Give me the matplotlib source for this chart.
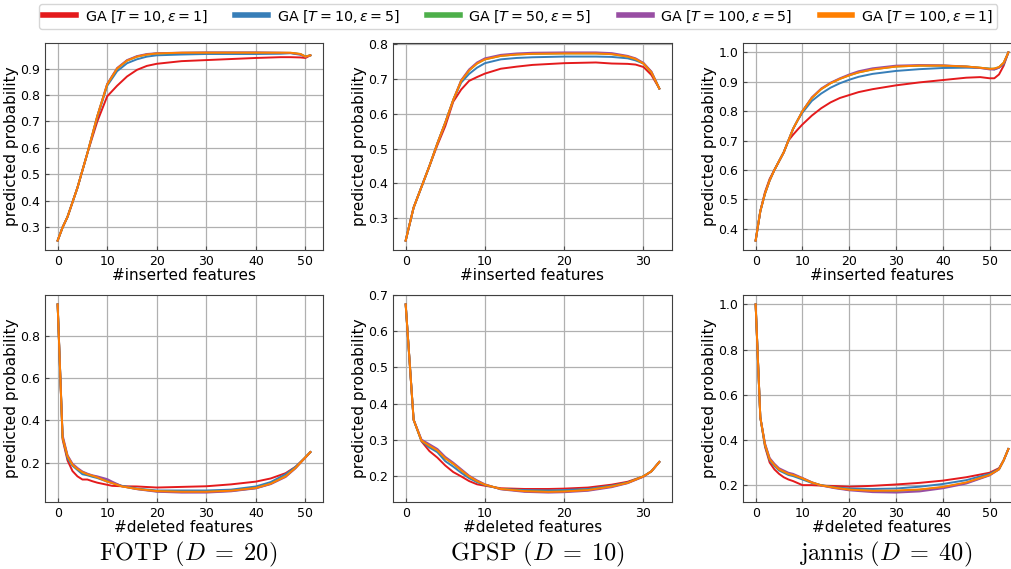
import matplotlib
matplotlib.use("Agg")
import matplotlib.pyplot as plt

# colours (Set1)
colors = ["#e41a1c", "#377eb8", "#4daf4a", "#984ea3", "#ff7f00"]
labels = [r"GA $[T=10, \varepsilon=1]$", r"GA $[T=10, \varepsilon=5]$",
          r"GA $[T=50, \varepsilon=5]$", r"GA $[T=100, \varepsilon=5]$",
          r"GA $[T=100, \varepsilon=1]$"]
titles = [r"$\mathrm{FOTP}\ (D\;=\;20)$", r"$\mathrm{GPSP}\ (D\;=\;10)$", r"$\mathrm{jannis}\ (D\;=\;40)$"]

# ---- FOTP insertion
fotp_ins_x = [0, 1, 2, 4, 6, 8, 10, 12, 14, 16, 18, 20, 25, 30, 35, 40, 45, 47, 49, 50, 51]
fotp_ins_red = [0.25, 0.30, 0.34, 0.45, 0.58, 0.70, 0.795, 0.835, 0.87, 0.895, 0.91, 0.918, 0.928, 0.932, 0.936, 0.94, 0.943, 0.943, 0.942, 0.94, 0.95]
fotp_ins_blue = [0.25, 0.30, 0.34, 0.45, 0.58, 0.715, 0.835, 0.89, 0.92, 0.935, 0.945, 0.95, 0.953, 0.955, 0.955, 0.955, 0.956, 0.958, 0.952, 0.945, 0.95]
fotp_ins_green = [0.25, 0.30, 0.34, 0.45, 0.58, 0.72, 0.84, 0.90, 0.93, 0.945, 0.953, 0.957, 0.959, 0.96, 0.96, 0.96, 0.959, 0.959, 0.955, 0.946, 0.95]
fotp_ins_purple = [0.25, 0.30, 0.34, 0.45, 0.58, 0.72, 0.842, 0.902, 0.932, 0.947, 0.955, 0.958, 0.96, 0.961, 0.961, 0.961, 0.96, 0.959, 0.954, 0.944, 0.95]
fotp_ins_orange = [0.25, 0.30, 0.34, 0.45, 0.58, 0.72, 0.84, 0.90, 0.93, 0.945, 0.953, 0.957, 0.96, 0.96, 0.96, 0.96, 0.96, 0.96, 0.955, 0.945, 0.95]

# ---- GPSP insertion
gpsp_ins_x = [0, 1, 2, 3, 4, 5, 6, 7, 8, 9, 10, 12, 14, 16, 20, 24, 26, 28, 29, 30, 31, 32]
gpsp_ins_red = [0.235, 0.33, 0.39, 0.45, 0.51, 0.565, 0.635, 0.67, 0.695, 0.706, 0.716, 0.73, 0.736, 0.741, 0.746, 0.748, 0.745, 0.744, 0.742, 0.735, 0.712, 0.673]
gpsp_ins_blue = [0.235, 0.33, 0.39, 0.45, 0.515, 0.575, 0.64, 0.69, 0.715, 0.733, 0.746, 0.757, 0.761, 0.763, 0.765, 0.765, 0.764, 0.76, 0.754, 0.745, 0.72, 0.673]
gpsp_ins_green = [0.235, 0.33, 0.39, 0.45, 0.515, 0.575, 0.64, 0.695, 0.725, 0.745, 0.757, 0.767, 0.771, 0.773, 0.774, 0.774, 0.772, 0.765, 0.758, 0.745, 0.72, 0.673]
gpsp_ins_purple = [0.235, 0.33, 0.39, 0.45, 0.515, 0.575, 0.64, 0.697, 0.728, 0.748, 0.76, 0.77, 0.774, 0.776, 0.777, 0.777, 0.775, 0.767, 0.76, 0.747, 0.722, 0.673]
gpsp_ins_orange = [0.235, 0.33, 0.39, 0.45, 0.515, 0.575, 0.64, 0.695, 0.725, 0.745, 0.757, 0.767, 0.771, 0.773, 0.774, 0.774, 0.772, 0.765, 0.758, 0.745, 0.72, 0.673]

# ---- jannis insertion
jan_ins_x = [0, 1, 2, 3, 4, 5, 6, 7, 8, 9, 10, 12, 14, 16, 18, 20, 22, 25, 30, 35, 40, 45, 48, 50, 51, 52, 53, 54]
jan_ins_red = [0.36, 0.46, 0.525, 0.57, 0.60, 0.63, 0.66, 0.70, 0.72, 0.738, 0.755, 0.785, 0.81, 0.83, 0.845, 0.855, 0.865, 0.875, 0.888, 0.898, 0.906, 0.914, 0.916, 0.912, 0.912, 0.925, 0.955, 1.0]
jan_ins_blue = [0.36, 0.46, 0.52, 0.565, 0.60, 0.63, 0.66, 0.70, 0.74, 0.77, 0.795, 0.835, 0.86, 0.88, 0.895, 0.907, 0.917, 0.927, 0.937, 0.943, 0.947, 0.948, 0.947, 0.945, 0.942, 0.948, 0.96, 1.0]
jan_ins_green = [0.36, 0.46, 0.52, 0.565, 0.60, 0.63, 0.66, 0.70, 0.74, 0.77, 0.80, 0.845, 0.875, 0.895, 0.91, 0.922, 0.932, 0.942, 0.952, 0.955, 0.955, 0.952, 0.948, 0.944, 0.945, 0.95, 0.965, 1.0]
jan_ins_purple = [0.36, 0.46, 0.52, 0.565, 0.60, 0.63, 0.66, 0.70, 0.74, 0.77, 0.80, 0.847, 0.877, 0.897, 0.912, 0.925, 0.936, 0.946, 0.955, 0.957, 0.956, 0.952, 0.947, 0.942, 0.942, 0.948, 0.963, 1.0]
jan_ins_orange = [0.36, 0.46, 0.52, 0.565, 0.60, 0.63, 0.66, 0.70, 0.74, 0.77, 0.80, 0.845, 0.875, 0.895, 0.91, 0.922, 0.932, 0.942, 0.952, 0.955, 0.955, 0.952, 0.948, 0.944, 0.945, 0.95, 0.965, 1.0]

# ---- FOTP deletion
fotp_del_x = [0, 1, 2, 3, 4, 5, 6, 7, 8, 10, 11, 13, 16, 20, 25, 30, 35, 40, 43, 46, 48, 50, 51]
fotp_del_red = [0.95, 0.31, 0.21, 0.16, 0.135, 0.12, 0.12, 0.112, 0.105, 0.095, 0.09, 0.088, 0.087, 0.082, 0.085, 0.088, 0.097, 0.11, 0.125, 0.15, 0.18, 0.225, 0.25]
fotp_del_blue = [0.95, 0.32, 0.22, 0.185, 0.165, 0.145, 0.14, 0.133, 0.127, 0.11, 0.103, 0.09, 0.077, 0.068, 0.068, 0.068, 0.072, 0.087, 0.108, 0.145, 0.18, 0.225, 0.25]
fotp_del_green = [0.95, 0.32, 0.23, 0.19, 0.17, 0.155, 0.145, 0.138, 0.132, 0.115, 0.105, 0.088, 0.075, 0.064, 0.061, 0.061, 0.066, 0.079, 0.10, 0.135, 0.175, 0.225, 0.25]
fotp_del_purple = [0.95, 0.33, 0.235, 0.195, 0.175, 0.158, 0.148, 0.14, 0.135, 0.122, 0.11, 0.088, 0.074, 0.062, 0.058, 0.058, 0.064, 0.078, 0.098, 0.132, 0.173, 0.224, 0.25]
fotp_del_orange = [0.95, 0.32, 0.23, 0.19, 0.17, 0.155, 0.145, 0.138, 0.13, 0.11, 0.103, 0.087, 0.075, 0.065, 0.062, 0.062, 0.067, 0.08, 0.10, 0.135, 0.175, 0.225, 0.25]

# ---- GPSP deletion
gpsp_del_x = [0, 1, 2, 3, 4, 5, 6, 7, 8, 9, 10, 12, 15, 18, 20, 23, 26, 28, 30, 31, 32]
gpsp_del_red = [0.675, 0.355, 0.295, 0.268, 0.25, 0.228, 0.21, 0.198, 0.185, 0.176, 0.172, 0.165, 0.163, 0.163, 0.164, 0.167, 0.175, 0.183, 0.198, 0.212, 0.238]
gpsp_del_blue = [0.675, 0.355, 0.296, 0.278, 0.265, 0.24, 0.225, 0.208, 0.193, 0.182, 0.174, 0.163, 0.16, 0.159, 0.16, 0.163, 0.172, 0.181, 0.198, 0.212, 0.238]
gpsp_del_green = [0.675, 0.355, 0.297, 0.283, 0.27, 0.248, 0.233, 0.215, 0.198, 0.185, 0.175, 0.163, 0.157, 0.155, 0.156, 0.16, 0.17, 0.18, 0.198, 0.212, 0.238]
gpsp_del_purple = [0.675, 0.355, 0.30, 0.287, 0.274, 0.252, 0.236, 0.218, 0.20, 0.187, 0.176, 0.162, 0.155, 0.153, 0.154, 0.158, 0.168, 0.179, 0.197, 0.212, 0.238]
gpsp_del_orange = [0.675, 0.355, 0.297, 0.283, 0.27, 0.248, 0.233, 0.215, 0.198, 0.185, 0.175, 0.163, 0.157, 0.155, 0.156, 0.16, 0.17, 0.18, 0.198, 0.212, 0.238]

# ---- jannis deletion
jan_del_x = [0, 1, 2, 3, 4, 5, 6, 7, 8, 10, 12, 14, 17, 20, 25, 30, 35, 40, 45, 50, 52, 53, 54]
jan_del_red = [1.0, 0.5, 0.37, 0.30, 0.27, 0.25, 0.235, 0.225, 0.218, 0.20, 0.20, 0.198, 0.196, 0.193, 0.197, 0.203, 0.21, 0.22, 0.235, 0.255, 0.275, 0.31, 0.36]
jan_del_blue = [1.0, 0.5, 0.375, 0.31, 0.285, 0.265, 0.255, 0.245, 0.24, 0.225, 0.21, 0.20, 0.19, 0.185, 0.183, 0.185, 0.193, 0.205, 0.222, 0.25, 0.272, 0.31, 0.36]
jan_del_green = [1.0, 0.5, 0.38, 0.315, 0.29, 0.27, 0.26, 0.25, 0.245, 0.23, 0.212, 0.199, 0.188, 0.18, 0.174, 0.174, 0.179, 0.19, 0.21, 0.245, 0.27, 0.31, 0.36]
jan_del_purple = [1.0, 0.5, 0.385, 0.32, 0.295, 0.275, 0.265, 0.255, 0.25, 0.232, 0.213, 0.198, 0.186, 0.177, 0.169, 0.167, 0.172, 0.186, 0.207, 0.243, 0.27, 0.31, 0.36]
jan_del_orange = [1.0, 0.5, 0.38, 0.315, 0.29, 0.27, 0.26, 0.25, 0.245, 0.23, 0.212, 0.199, 0.188, 0.18, 0.175, 0.176, 0.181, 0.192, 0.212, 0.245, 0.27, 0.31, 0.36]

panels = [
    (fotp_ins_x, [fotp_ins_red, fotp_ins_blue, fotp_ins_green, fotp_ins_purple, fotp_ins_orange], "#inserted features"),
    (gpsp_ins_x, [gpsp_ins_red, gpsp_ins_blue, gpsp_ins_green, gpsp_ins_purple, gpsp_ins_orange], "#inserted features"),
    (jan_ins_x, [jan_ins_red, jan_ins_blue, jan_ins_green, jan_ins_purple, jan_ins_orange], "#inserted features"),
    (fotp_del_x, [fotp_del_red, fotp_del_blue, fotp_del_green, fotp_del_purple, fotp_del_orange], "#deleted features"),
    (gpsp_del_x, [gpsp_del_red, gpsp_del_blue, gpsp_del_green, gpsp_del_purple, gpsp_del_orange], "#deleted features"),
    (jan_del_x, [jan_del_red, jan_del_blue, jan_del_green, jan_del_purple, jan_del_orange], "#deleted features"),
]

W, H = 1011, 569
fig = plt.figure(figsize=(W / 100, H / 100), dpi=100)

lefts = [45, 393, 743]
widths = [278, 279, 278]
tops = [43, 295]
heights = [207, 207]

handles = []
for i, (xs, series, xlabel) in enumerate(panels):
    r, c = divmod(i, 3)
    ax = fig.add_axes([lefts[c] / W, 1 - (tops[r] + heights[r]) / H, widths[c] / W, heights[r] / H])
    for ys, col, lab in zip(series, colors, labels):
        ln, = ax.plot(xs, ys, color=col, lw=1.4, label=lab)
        if i == 0:
            handles.append(ln)
    ax.grid(True, color="#b0b0b0", lw=0.9)
    ax.set_axisbelow(True)
    ax.tick_params(direction="in", labelsize=9, length=3, color="0.3")
    for s in ax.spines.values():
        s.set_color("0.25")
    ax.set_xlabel(xlabel, fontsize=11, labelpad=0)
    ax.set_ylabel("predicted probability", fontsize=11, labelpad=1)

# column titles, latex-like
title_x = [188, 537, 886]
for tx, t in zip(title_x, titles):
    fig.text(tx / W, 1 - 554 / H, t, ha="center", va="center", fontsize=17.5, math_fontfamily="cm")

leg = fig.legend(handles=handles, labels=labels, loc="upper left", bbox_to_anchor=(39 / W, 1 - 4 / H),
                 ncol=5, fontsize=10.3, handlelength=2.3, handletextpad=0.6, columnspacing=1.9,
                 frameon=True, borderaxespad=0, borderpad=0.3)
for l in leg.get_lines():
    l.set_linewidth(4)
leg.get_frame().set_edgecolor("#cccccc")

fig.savefig("out.png", dpi=100)
